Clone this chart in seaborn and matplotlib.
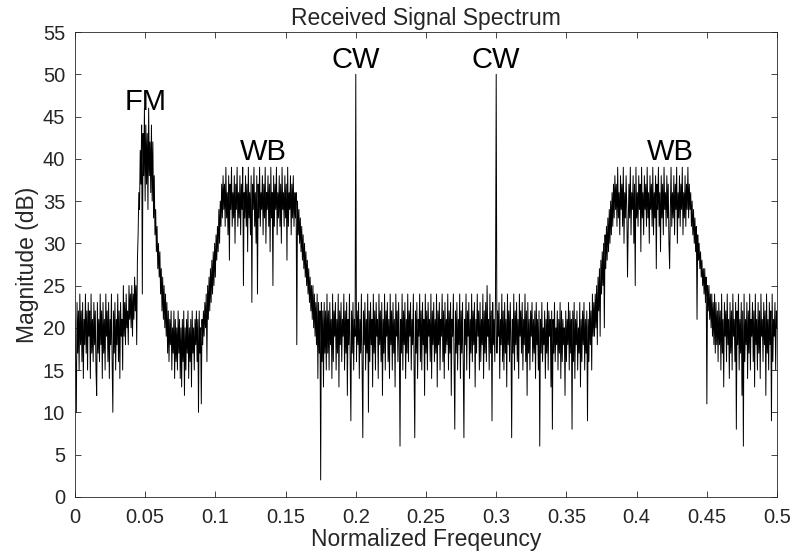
import numpy as np
import matplotlib
matplotlib.use("Agg")
import matplotlib.pyplot as plt
import seaborn as sns

# Spectrum magnitude (dB), one value per 0.0005 of normalized frequency
left_floor = [21, 16, 10, 23, 17, 22, 15, 24, 18, 22,
              16, 23, 14, 21, 18, 24, 17, 22, 15, 23,
              19, 22, 14, 24, 17, 21, 16, 23, 18, 22,
              15, 12, 23, 17, 21, 16, 24, 18, 22, 14,
              23, 17, 21, 15, 24, 19, 22, 16, 23, 14,
              21, 18, 24, 16, 10, 22, 17, 23, 15, 21,
              18, 24, 16, 22, 14, 23, 19, 21, 15, 25,
              19, 23, 18, 24, 20, 22, 18, 25, 21, 24]
fm_peak = [20, 25, 19, 24, 21, 26, 22, 25, 18, 28,
           31, 36, 34, 41, 37, 44, 24, 43, 38, 46,
           35, 44, 37, 43, 34, 46, 38, 42, 36, 44,
           35, 42, 33, 38, 31, 34, 29, 32, 27, 30,
           26, 29, 24, 27, 22, 26, 21, 25, 20, 24]
gap_floor = [19, 23, 17, 22, 16, 21, 18, 22, 15, 20,
             17, 22, 14, 21, 16, 20, 15, 22, 17, 21,
             14, 20, 13, 21, 16, 22, 12, 20, 15, 21,
             17, 22, 14, 20, 16, 21, 13, 22, 17, 20,
             15, 21, 18, 22, 16, 21, 10, 22, 17, 20]
wb_low_rise = [11, 21, 18, 22, 19, 23, 20, 24, 16, 25,
               21, 26, 22, 27, 23, 28, 24, 29, 25, 30,
               26, 31, 28, 32, 29, 34, 30, 35, 32, 37]
wb_low_top = [33, 38, 34, 37, 32, 39, 33, 36, 31, 38,
              28, 37, 34, 39, 32, 36, 33, 38, 30, 37,
              34, 39, 32, 36, 33, 38, 31, 37, 34, 39,
              25, 36, 33, 38, 32, 37, 29, 39, 33, 36,
              31, 38, 23, 37, 34, 39, 32, 36, 30, 38,
              24, 37, 33, 39, 32, 36, 34, 38, 31, 37,
              33, 39, 30, 36, 34, 38, 32, 37, 29, 39,
              33, 36, 25, 38, 32, 37, 34, 39, 31, 36,
              33, 38, 32, 37, 30, 39, 34, 36, 32, 38,
              33, 37, 28, 39, 32, 36, 34, 38, 31, 37,
              33, 38, 32, 36]
wb_low_fall = [33, 36, 18, 35, 31, 34, 30, 33, 29, 32,
               28, 31, 27, 30, 26, 29, 25, 28, 24, 27,
               23, 26, 22, 25, 21, 25, 20, 24, 19, 23,
               18, 24, 14, 23, 17, 22, 2, 23, 16, 22,
               13, 23, 17, 22, 15, 24]
mid_floor = [17, 22, 15, 23, 18, 21, 14, 24, 16, 22,
             19, 23, 15, 21, 17, 24, 13, 22, 18, 23,
             16, 21, 19, 24, 15, 22, 17, 23, 12, 21,
             18, 24, 16, 9, 22, 17, 23, 15, 21, 19,
             50, 16, 22, 18, 23, 14, 21, 17, 24, 16,
             7, 22, 18, 23, 15, 21, 17, 24, 10, 22,
             16, 23, 18, 21, 13, 24, 17, 22, 15, 23,
             19, 21, 14, 24, 18, 22, 16, 23, 12, 21,
             17, 24, 15, 22, 19, 23, 16, 21, 14, 24,
             18, 22, 15, 23, 17, 21, 13, 24, 19, 22,
             16, 23, 18, 6, 21, 17, 24, 15, 22, 18,
             23, 14, 21, 17, 24, 16, 22, 19, 23, 15,
             21, 18, 24, 16, 7, 22, 17, 23, 14, 21,
             19, 24, 16, 22, 15, 23, 18, 21, 12, 24,
             17, 22, 15, 23, 19, 21, 16, 24, 14, 22,
             18, 23, 16, 21, 17, 24, 13, 22, 18, 23,
             15, 21, 19, 24, 16, 22, 14, 23, 17, 21,
             18, 24, 15, 22, 17, 23, 12, 21, 19, 24,
             16, 8, 22, 17, 23, 15, 21, 18, 24, 14,
             22, 17, 23, 16, 7, 21, 18, 24, 15, 22,
             19, 23, 14, 21, 17, 24, 16, 22, 18, 23,
             13, 21, 17, 24, 19, 22, 15, 23, 16, 21,
             18, 24, 14, 22, 17, 23, 16, 25, 19, 21,
             15, 24, 17, 22, 9, 23, 18, 21, 16, 24,
             50, 17, 22, 19, 23, 14, 21, 18, 24, 16,
             22, 15, 23, 17, 21, 13, 24, 18, 22, 16,
             23, 19, 7, 21, 17, 24, 15, 22, 18, 23,
             16, 21, 14, 24, 19, 22, 17, 23, 15, 21,
             18, 24, 16, 22, 12, 23, 17, 21, 15, 22,
             19, 23, 16, 21, 17, 22, 14, 23, 18, 21,
             15, 22, 6, 21, 17, 23, 16, 20, 18, 22,
             14, 21, 17, 23, 15, 22, 19, 21, 13, 22,
             8, 21, 17, 23, 16, 20, 18, 22, 15, 21,
             17, 23, 14, 22, 16, 21, 18, 20, 12, 22,
             16, 21, 18, 23, 15, 22, 17, 21, 8, 22,
             16, 23, 14, 21, 18, 22, 15, 20, 17, 23,
             13, 21, 16, 22, 18, 23, 15, 21, 17, 22,
             9, 21, 16, 23, 18, 22, 15, 24, 19, 23]
wb_high_rise = [19, 24, 20, 25, 18, 26, 22, 27, 19, 28,
                24, 29, 25, 30, 20, 31, 27, 32, 28, 33,
                29, 34, 30, 35, 31, 36, 32, 37, 33, 38]
wb_high_top = [34, 37, 32, 39, 33, 36, 31, 38, 34, 37,
               32, 39, 30, 36, 33, 38, 34, 26, 32, 37,
               33, 39, 31, 36, 34, 38, 30, 37, 25, 39,
               33, 36, 32, 38, 34, 37, 29, 39, 33, 36,
               31, 38, 34, 37, 32, 39, 33, 36, 30, 38,
               34, 37, 32, 39, 31, 36, 33, 38, 27, 37,
               34, 39, 32, 36, 29, 38, 33, 37, 31, 39,
               34, 36, 32, 38, 33, 37, 30, 27, 34, 39,
               32, 36, 33, 38, 31, 37, 34, 39, 30, 36,
               33, 38, 32, 37, 34, 39, 31, 36, 33, 38,
               32, 37, 34, 39, 33, 37]
wb_high_fall = [34, 36, 32, 35, 31, 34, 30, 33, 29, 32,
                21, 31, 28, 30, 27, 29, 26, 28, 25, 27,
                24, 27, 23, 26, 11, 25, 22, 25, 21, 24,
                20, 24, 19, 23, 18, 24, 17, 23, 18, 22]
right_floor = [16, 23, 18, 22, 15, 24, 17, 21, 13, 23,
               19, 22, 16, 24, 18, 21, 14, 23, 17, 22,
               15, 24, 19, 21, 16, 23, 8, 22, 18, 24,
               15, 21, 17, 23, 12, 22, 6, 24, 16, 21,
               18, 23, 14, 22, 17, 24, 15, 21, 19, 23,
               16, 22, 13, 24, 18, 21, 15, 23, 17, 22,
               14, 24, 19, 21, 16, 23, 18, 22, 12, 24,
               17, 21, 15, 23, 18, 22, 9, 24, 16, 21,
               19, 23, 15, 22, 20]

magnitude = np.array(left_floor + fm_peak + gap_floor + wb_low_rise + wb_low_top
                     + wb_low_fall + mid_floor + wb_high_rise + wb_high_top
                     + wb_high_fall + right_floor, dtype=float)
freq = np.arange(len(magnitude)) * 0.0005

# band labels
label_text = ["FM", "WB", "CW", "CW", "WB"]
label_x = [0.05, 0.134, 0.2, 0.3, 0.424]
label_y = [45.8, 39.9, 50.8, 50.8, 39.9]

sns.set_style("ticks")
plt.rcParams["font.family"] = ["Liberation Sans", "DejaVu Sans"]

fig, ax = plt.subplots(figsize=(7.97, 5.57), dpi=100)
fig.subplots_adjust(left=0.094, right=0.975, bottom=0.108, top=0.9425)

sns.lineplot(x=freq, y=magnitude, ax=ax, color="black", linewidth=0.7,
             estimator=None, sort=False)

for t, x, y in zip(label_text, label_x, label_y):
    ax.text(x, y, t, ha="center", va="baseline", fontsize=21, color="black")

ax.set_xlim(0, 0.5)
ax.set_ylim(0, 55)
ax.set_xticks(np.arange(0, 0.501, 0.05))
ax.set_xticklabels(["0", "0.05", "0.1", "0.15", "0.2", "0.25", "0.3",
                    "0.35", "0.4", "0.45", "0.5"])
ax.set_yticks(np.arange(0, 56, 5))

ax.set_title("Received Signal Spectrum", fontsize=16.5, color="#262626", pad=5)
ax.set_xlabel("Normalized Freqeuncy", fontsize=16.5, color="#262626", labelpad=1)
ax.set_ylabel("Magnitude (dB)", fontsize=16.5, color="#262626", labelpad=3)

ax.tick_params(direction="in", length=4, width=0.6, top=True, right=True,
               labelsize=14.5, colors="#262626")
ax.tick_params(axis="x", pad=8)
ax.tick_params(axis="y", pad=7)
for side in ax.spines.values():
    side.set_visible(True)
    side.set_linewidth(0.6)
    side.set_color("#262626")

fig.savefig("out.png", dpi=100, facecolor="white")
